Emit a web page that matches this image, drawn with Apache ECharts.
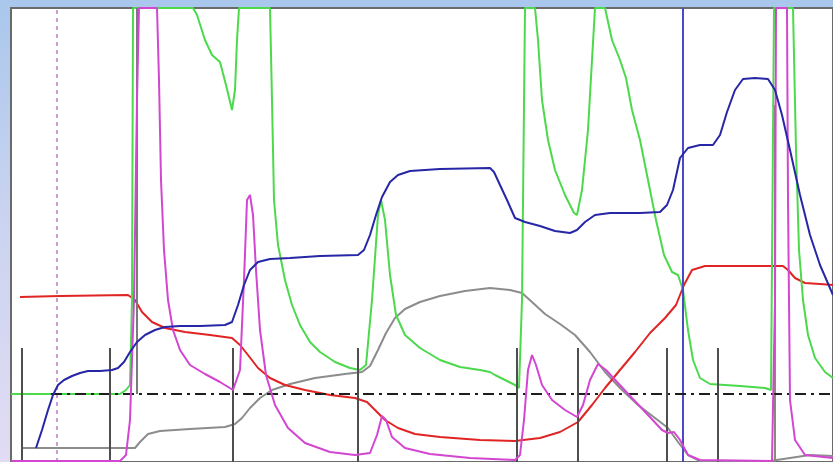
<!DOCTYPE html>
<html>
<head>
<meta charset="utf-8">
<script src="https://cdn.jsdelivr.net/npm/echarts@6/dist/echarts.min.js"></script>
<style>
  html, body { margin: 0; padding: 0; }
  body { width: 833px; height: 462px; overflow: hidden;
         background: linear-gradient(180deg, #a9c7ec 0%, #c9d3f0 45%, #e2dcf4 100%); }
  #chart { width: 833px; height: 462px; }
</style>
</head>
<body>
<div id="chart"></div>
<script>
// Chromatogram traces: x = elution volume (mL), y = detector signal (mAU, full scale 454)
const uvTrace = [
  [0,68],[10.9,68],[11.5,72],[11.9,77],[12.1,162],[12.2,454],[18.2,454],[18.6,447],[19.4,422],
  [20.1,407],[20.9,400],[21.5,377],[22.1,352],[22.4,372],[22.6,422],[22.8,454],[25.9,454],
  [26.1,362],[26.3,262],[26.7,217],[27.4,182],[28.1,157],[28.9,137],[29.9,120],[30.9,110],
  [32.4,100],[33.9,94],[34.9,92],[35.5,97],[36.1,162],[36.7,247],[37.0,262],[37.4,242],
  [37.9,187],[38.5,147],[39.4,127],[40.9,114],[42.9,102],[44.9,95],[46.9,92],[47.9,90],
  [48.4,87],[49.4,82],[50.4,77],[50.8,74],[51.1,162],[51.4,454],[52.4,454],[52.7,422],
  [53.1,362],[53.7,322],[54.4,292],[55.4,267],[56.3,249],[56.6,247],[57.1,272],[57.7,332],
  [58.1,402],[58.4,454],[59.4,454],[60.1,422],[60.9,402],[61.5,384],[62.1,352],[62.9,322],
  [63.7,282],[64.5,242],[65.3,207],[66.1,190],[66.7,187],[67.2,172],[67.7,132],[68.2,102],
  [68.9,84],[69.9,78],[72.9,76],[75.4,74],[76.0,72],[76.3,454],[78.2,454],[78.5,312],
  [78.8,212],[79.2,162],[79.7,127],[80.4,104],[81.4,90],[82.2,84]
];
const concTrace = [
  [2.5,14],[3.1,32],[3.7,52],[4.2,67],[4.7,77],[5.3,82],[6.1,86],[6.9,89],[7.7,91],[8.9,91],
  [10.1,92],[10.7,94],[11.3,100],[11.9,110],[12.6,120],[13.4,127],[14.4,132],[15.4,135],
  [16.9,136],[18.9,136],[21.4,137],[22.1,140],[22.7,157],[23.3,177],[23.9,192],[24.7,200],
  [25.9,203],[27.9,204],[30.9,206],[34.7,207],[35.3,212],[35.9,227],[36.5,247],[37.1,265],
  [37.9,280],[38.7,287],[39.9,291],[42.9,293],[47.9,294],[48.3,290],[48.9,277],[49.6,262],
  [50.4,244],[51.4,240],[52.9,236],[54.4,231],[55.9,229],[56.6,232],[57.4,240],[58.4,247],
  [59.9,249],[62.9,249],[64.9,250],[65.6,257],[66.2,272],[66.9,304],[67.7,314],[68.9,317],
  [70.2,317],[70.9,327],[71.6,350],[72.4,372],[73.2,383],[74.4,384],[75.7,383],[76.4,372],
  [77.1,347],[77.9,312],[78.9,267],[79.9,227],[80.9,197],[82.2,167]
];
const phTrace = [
  [0.9,165],[4.9,166],[11.7,167],[12.4,162],[13.1,150],[14.1,140],[15.4,134],[17.4,130],
  [19.9,127],[22.1,124],[22.9,117],[23.7,107],[24.7,94],[25.9,84],[27.4,77],[29.4,72],
  [31.9,67],[34.4,64],[35.6,60],[36.4,52],[37.4,42],[38.7,34],[40.4,28],[42.9,25],[46.9,22],
  [50.4,21],[52.9,24],[54.9,30],[56.7,40],[58.1,57],[59.4,74],[60.9,92],[62.4,110],
  [63.9,129],[65.4,144],[66.5,157],[67.3,177],[68.1,192],[69.4,196],[72.9,196],[77.2,196],
  [77.7,192],[78.4,184],[79.4,179],[80.9,178],[82.2,177]
];
const pressTrace = [
  [1.1,14],[12.4,14],[12.9,20],[13.7,28],[14.9,31],[17.9,33],[21.4,35],[22.4,38],[23.1,44],
  [23.9,54],[24.9,64],[26.1,72],[27.9,78],[30.4,84],[33.4,88],[35.1,90],[35.9,96],[36.7,112],
  [37.5,129],[38.4,144],[39.4,153],[40.9,160],[42.9,166],[45.4,171],[47.9,174],[49.9,172],
  [51.1,169],[52.1,160],[53.4,148],[54.9,138],[56.4,127],[57.9,110],[59.4,90],[60.9,74],
  [62.7,57],[64.4,44],[65.7,34],[66.7,20],[67.7,7],[68.9,1],[75.9,1],[77.9,4],[79.9,7],[82.2,6]
];
const condTrace = [
  [0,1],[10.9,1],[11.5,7],[11.9,42],[12.3,162],[12.6,362],[12.8,454],[14.6,454],[14.8,382],
  [15.0,282],[15.3,212],[15.7,162],[16.2,132],[16.9,112],[17.9,97],[19.4,88],[20.9,80],
  [22.2,72],[22.9,92],[23.3,182],[23.6,262],[23.9,267],[24.2,247],[24.5,192],[24.9,132],
  [25.5,87],[26.4,57],[27.7,34],[29.4,19],[31.9,10],[34.4,7],[35.9,9],[36.6,27],[37.1,46],
  [37.5,42],[38.1,25],[39.4,14],[41.9,8],[45.9,4],[50.4,2],[50.9,7],[51.3,42],[51.7,92],
  [52.1,107],[52.5,97],[53.1,77],[54.1,62],[55.4,52],[56.6,45],[57.2,57],[57.9,82],[58.7,98],
  [59.5,92],[60.7,79],[62.1,64],[63.7,47],[65.1,32],[65.7,29],[66.3,30],[66.9,22],[67.7,7],
  [68.9,2],[76.1,1],[76.4,162],[76.5,454],[77.6,454],[77.7,262],[77.9,62],[78.4,22],
  [79.4,7],[82.2,4]
];

// Fraction marks, event marks and the reference level
const fractionMarks = [1.1, 9.9, 22.2, 34.7, 50.6, 56.7, 65.6, 70.7];
const fractionMarkHeight = 114;
const injectionMark = 4.6;
const valveMark = 12.6;
const valveMarkTop = 454;
const valveMarkBottom = 68;
const gradientMark = 67.2;
const washMark = 76.4;
const washMarkTop = 357;
const thresholdLevel = 68;
const thresholdStart = 4.0;

const X_MAX = 82.2, Y_MAX = 454;

// A markLine segment between two data points with its own style
function segment(x0, y0, x1, y1, style) {
  return [{ coord: [x0, y0], lineStyle: style }, { coord: [x1, y1] }];
}

const eventLines = [
  segment(injectionMark, 0, injectionMark, Y_MAX, { color: '#c07ac8', width: 1.5, type: [4, 4] }),
  segment(valveMark, valveMarkBottom, valveMark, valveMarkTop, { color: '#7a7a7a', width: 2, type: 'solid' }),
  segment(gradientMark, 0, gradientMark, Y_MAX, { color: '#4a4ac8', width: 2, type: 'solid' }),
  segment(washMark, 0, washMark, washMarkTop, { color: '#8a8a7a', width: 2, type: 'solid' }),
  segment(thresholdStart, thresholdLevel, X_MAX, thresholdLevel, { color: '#1e1e1e', width: 2, type: [11, 5, 3, 5] })
];
const fractionLines = fractionMarks.map(x =>
  segment(x, 0, x, fractionMarkHeight, { color: '#4e4e4e', width: 2, type: 'solid' })
);

const chart = echarts.init(document.getElementById('chart'), null, { renderer: 'canvas' });

const lineBase = { type: 'line', showSymbol: false, symbol: 'none', smooth: false, animation: false };
const hiddenAxis = {
  axisLine: { show: false }, axisTick: { show: false }, axisLabel: { show: false }, splitLine: { show: false }
};

chart.setOption({
  backgroundColor: 'transparent',
  animation: false,
  grid: {
    left: 11, top: 8, right: 0, bottom: 0,
    show: true, backgroundColor: '#ffffff', borderColor: '#6a6a6a', borderWidth: 2
  },
  xAxis: { type: 'value', min: 0, max: X_MAX, ...hiddenAxis },
  yAxis: { type: 'value', min: 0, max: Y_MAX, ...hiddenAxis },
  series: [
    {
      ...lineBase, name: 'marks', data: [], z: 1,
      markLine: {
        silent: true, symbol: 'none', animation: false, label: { show: false },
        data: eventLines.concat(fractionLines)
      }
    },
    { ...lineBase, name: 'Press', data: pressTrace, z: 2, lineStyle: { color: '#8c8c8c', width: 2 } },
    { ...lineBase, name: 'pH', data: phTrace, z: 3, lineStyle: { color: '#e02424', width: 2 } },
    { ...lineBase, name: 'UV', data: uvTrace, z: 4, lineStyle: { color: '#4cd94c', width: 2 } },
    { ...lineBase, name: 'Cond', data: condTrace, z: 5, lineStyle: { color: '#d246d2', width: 2 } },
    { ...lineBase, name: 'Conc', data: concTrace, z: 6, lineStyle: { color: '#2626a6', width: 2 } }
  ]
});
</script>
</body>
</html>
